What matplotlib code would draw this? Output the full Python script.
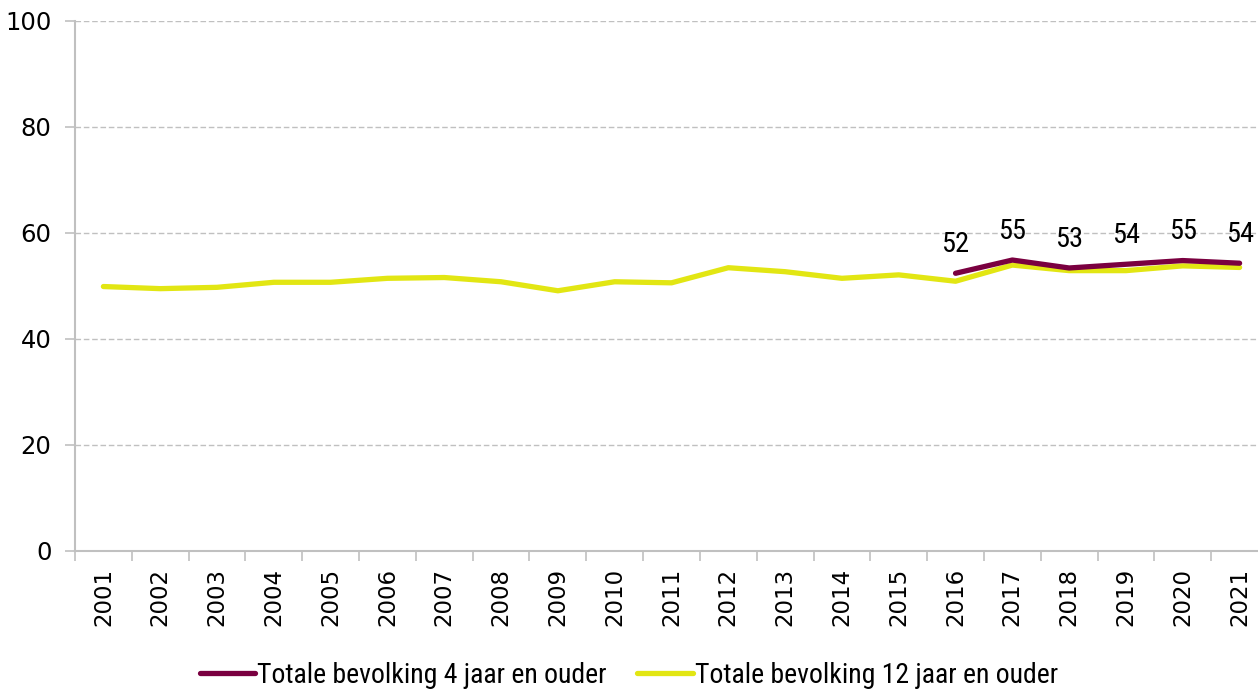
import numpy as np
import matplotlib
matplotlib.use('Agg')
import matplotlib.pyplot as plt
from matplotlib import font_manager

years = [str(y) for y in range(2001, 2022)]
# Totale bevolking 12 jaar en ouder (2001-2021)
pop12 = [49.9, 49.5, 49.75, 50.7, 50.7, 51.45, 51.6, 50.8, 49.1, 50.8, 50.6,
         53.45, 52.7, 51.45, 52.1, 50.9, 53.95, 52.9, 52.9, 53.8, 53.5]
# Totale bevolking 4 jaar en ouder (2016-2021)
years4 = years[15:]
pop4 = [52.4, 54.9, 53.4, 54.1, 54.8, 54.3]

purple = '#7a0040'
yellow = '#e2e613'
grid_col = '#c0c0c0'

names = {f.name for f in font_manager.fontManager.ttflist}
narrow = 'DejaVu Sans'
for cand in ['Liberation Sans Narrow', 'DejaVu Sans Condensed', 'Roboto Condensed', 'Open Sans Condensed']:
    if cand in names:
        narrow = cand
        break
stretch = 'condensed'

fig = plt.figure(figsize=(12.58, 6.9), dpi=100)
ax = fig.add_axes([75 / 1258, 139 / 690, 1193 / 1258, 530 / 690])

x12 = np.arange(len(years))
x4 = np.arange(15, 15 + len(years4))
ax.plot(x4, pop4, color=purple, linewidth=3.8, solid_capstyle='round',
        label='Totale bevolking 4 jaar en ouder', zorder=3)
ax.plot(x12, pop12, color=yellow, linewidth=3.8, solid_capstyle='round',
        label='Totale bevolking 12 jaar en ouder', zorder=2)

# value labels above the 4+ series
for xi, v in zip(x4, pop4):
    ax.annotate(f'{v:.0f}', (xi, v), xytext=(0, 11), textcoords='offset points',
                ha='center', va='bottom', fontsize=20.5, family=narrow, fontstretch=stretch)

ax.set_xlim(-0.5, 20.5)
ax.set_ylim(0, 100)
ax.set_yticks(range(0, 101, 20))
ax.set_xticks(x12)
ax.set_xticklabels(years, rotation=90)
ax.set_xticks(np.arange(-0.5, 21, 1), minor=True)
ax.tick_params(axis='x', which='major', length=0, pad=12, labelsize=16.5)
ax.tick_params(axis='x', which='minor', length=7, color=grid_col, width=1.2)
ax.tick_params(axis='y', length=7, color=grid_col, width=1.2, labelsize=17.5, pad=10)

ax.grid(axis='y', color=grid_col, linestyle=(0, (4, 2)), linewidth=1)
ax.set_axisbelow(True)
for s in ['top', 'right']:
    ax.spines[s].set_visible(False)
for s in ['left', 'bottom']:
    ax.spines[s].set_color(grid_col)
    ax.spines[s].set_linewidth(1.5)

leg = fig.legend(loc='lower center', bbox_to_anchor=(0.5, 0.0), ncol=2, frameon=False,
                 prop={'family': narrow, 'size': 20, 'stretch': stretch}, handlelength=2.0,
                 handletextpad=0.08, columnspacing=1.1, borderaxespad=0.0, borderpad=0.05)

fig.savefig('out.png', dpi=100)
